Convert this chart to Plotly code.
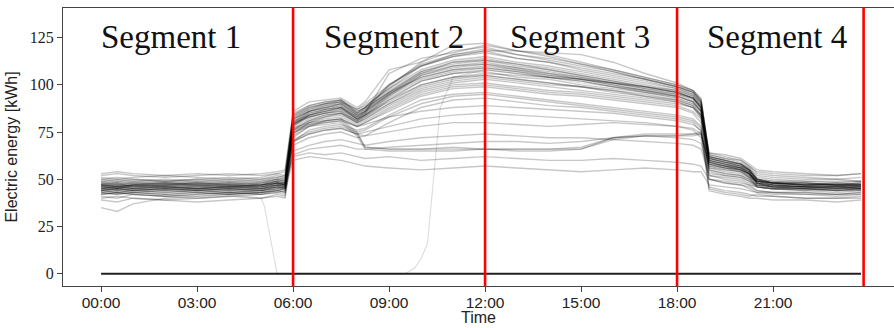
import plotly.graph_objects as go

# Time of day (hours) at which each daily profile is sampled
HOURS = [0, 0.5, 1, 2, 3, 4, 5, 5.5, 5.75,
         6, 6.5, 7, 7.5, 8, 8.25, 9,
         10, 11, 12, 13, 14, 15, 16, 17, 18,
         18.5, 18.75, 19, 19.5, 20, 20.25, 20.5, 21, 22, 23, 23.75]

# Typical working-day profiles [kWh]
DAY_PROFILES = [
    [46,45,47,46,45,46,47,48,47, 78,84,86,88,82,84,93, 102,106,107,104,103,100,98,96,93, 90,86,60,58,56,53,49,48,47,47,46],
    [44,43,44,45,44,43,44,46,45, 74,80,82,83,79,81,88, 96,100,101,99,97,96,94,92,90, 88,83,57,55,54,51,47,46,45,44,45],
    [50,51,50,49,50,51,50,52,51, 84,88,90,92,86,88,98, 108,113,115,112,110,107,104,101,98, 95,90,63,61,59,56,52,51,50,50,49],
    [41,40,42,41,40,41,42,43,42, 70,76,78,79,76,77,84, 92,95,96,94,92,90,88,86,84, 82,78,46,44,43,42,41,41,40,40,41],
    [48,47,48,49,48,47,48,50,49, 82,86,89,90,84,87,96, 106,110,112,109,106,104,101,98,95, 93,88,62,60,58,55,50,49,48,47,48],
    [53,54,53,52,53,52,53,54,55, 86,91,92,93,88,91,108, 112,118,120,116,114,111,108,104,100, 97,92,64,63,61,58,55,54,53,52,53],
    [45,46,45,44,45,44,45,47,46, 80,83,85,86,81,83,90, 98,102,104,102,100,99,97,95,92, 89,84,59,57,55,53,48,47,46,45,46],
    [39,38,40,39,38,39,40,41,40, 68,72,74,75,72,73,80, 88,92,93,91,89,88,86,84,82, 80,75,44,42,41,40,40,39,39,38,39],
    [47,48,46,47,48,47,46,48,49, 79,85,87,89,83,86,95, 104,108,110,108,105,103,100,97,95, 92,87,60,58,56,54,49,48,48,47,47],
    [43,42,43,44,43,42,43,45,44, 76,81,84,85,80,82,89, 97,101,103,101,99,97,95,93,91, 88,84,55,53,52,50,46,45,45,44,44],
    [49,50,49,48,49,50,49,51,50, 85,89,91,92,85,87,97, 107,112,114,111,109,106,103,100,97, 94,89,61,59,57,55,50,49,49,48,49],
    [46,47,46,45,46,47,46,47,48, 80,86,88,90,84,86,100, 110,116,118,114,112,108,105,102,98, 95,90,60,58,56,54,49,48,47,46,47],
    [44,45,44,43,44,45,44,45,46, 77,82,84,85,81,84,94, 105,110,111,108,106,103,100,97,94, 91,86,58,56,55,52,47,46,45,45,46],
    [51,50,51,52,51,50,51,53,52, 82,87,90,91,87,89,98, 110,115,117,114,112,109,106,103,99, 96,91,63,61,60,57,53,52,51,50,51],
    [42,43,42,41,42,43,42,44,43, 72,78,80,81,78,80,86, 94,98,99,97,95,94,92,90,88, 85,80,50,48,47,46,44,43,43,42,43],
    [47,46,47,48,47,46,47,49,48, 81,84,87,88,82,85,94, 103,107,109,107,104,102,99,96,94, 91,86,60,58,57,54,49,48,47,48,47],
    [45,44,45,46,45,44,45,46,47, 79,84,86,87,82,85,95, 106,112,113,110,108,105,102,99,96, 93,88,59,57,56,53,48,46,46,46,45],
    [48,49,48,47,48,49,48,50,49, 83,87,89,91,85,88,99, 112,121,122,118,116,112,108,104,100, 97,92,62,60,58,55,50,48,48,47,48],
    [40,41,40,39,40,41,40,42,41, 71,75,77,78,75,76,83, 90,94,95,93,91,89,87,85,83, 81,77,45,43,42,41,42,41,40,40,40],
    [46,45,46,47,46,45,46,48,47, 78,83,85,87,82,84,91, 100,104,105,103,101,99,97,94,92, 89,84,59,57,56,53,48,47,46,46,47],
    [52,53,52,51,52,53,52,53,54, 84,89,91,92,87,90,100, 111,116,119,116,113,110,107,103,99, 96,91,64,62,60,57,54,53,52,52,53],
    [44,43,44,45,44,43,44,45,46, 75,80,83,84,80,82,90, 99,103,105,103,101,99,96,94,91, 88,83,56,54,53,51,46,45,45,44,45],
    [47,48,47,46,47,48,47,49,48, 80,85,87,88,83,86,96, 107,111,113,111,108,105,102,99,96, 93,88,61,59,57,55,50,48,47,47,48],
    [35,33,37,40,41,42,43,44,43, 73,78,81,82,78,80,87, 95,99,100,98,96,95,93,91,89, 86,82,52,50,49,47,44,43,43,42,42],
    [45,46,45,46,45,46,45,47,46, 79,84,86,88,83,85,106, 114,117,121,118,115,111,107,103,99, 96,91,61,59,57,54,49,47,46,46,46],
    [50,49,50,49,50,49,50,51,52, 83,88,90,91,86,88,96, 104,108,109,107,105,103,101,98,96, 93,88,62,60,58,56,51,50,49,49,49],
    [43,44,43,42,43,44,43,44,45, 76,81,83,85,80,83,92, 102,106,108,106,104,102,99,97,94, 91,86,54,52,51,49,46,45,44,45,44],
    [48,47,48,47,48,47,48,49,50, 82,86,88,89,84,86,95, 105,109,111,109,107,104,101,99,96, 93,88,61,59,58,55,50,48,48,47,47],
    [47,46,47,48,47,48,47,49,48, 81,86,88,90,85,88,100, 110,115,118,118,117,116,112,106,101, 97,93,62,60,58,55,50,48,47,47,47],
    [44,45,44,45,44,45,44,46,45, 79,83,85,86,81,84,92, 100,104,106,105,104,103,101,99,97, 94,89,59,57,55,53,48,46,46,45,45],
    [43,42,43,42,43,42,43,44,45, 70,74,76,77,74,75,78, 82,84,85,84,83,82,81,80,78, 76,72,50,48,47,45,43,42,42,41,42],
    [46,47,46,47,46,47,46,48,47, 74,79,81,82,78,79,83, 86,88,89,88,87,86,85,83,81, 79,76,55,53,52,50,47,46,46,45,46],
]

# Low-consumption day profiles [kWh]
LOW_PROFILES = [
    [44,45,44,43,44,45,44,46,45, 65,68,70,71,69,68,70, 72,73,74,73,72,72,71,70,69, 68,66,52,51,50,48,46,45,44,43,44],
    [47,46,47,48,47,46,47,48,47, 62,64,63,64,62,61,62, 60,61,62,61,60,60,61,60,59, 58,57,50,49,48,47,46,45,45,46,45],
    [42,43,42,41,42,43,42,43,44, 60,62,61,60,58,57,56, 55,56,57,56,55,54,55,56,55, 54,54,47,46,45,44,43,43,42,42,43],
    [49,48,49,50,49,48,49,50,51, 70,74,76,77,74,73,75, 78,80,80,79,78,79,80,79,78, 77,74,56,55,54,51,49,48,47,48,47],
    [45,44,45,44,45,46,45,46,47, 63,66,67,68,66,66,67, 68,69,70,70,69,70,72,73,72, 71,69,53,52,51,49,47,46,45,44,45],
]

# Repeated flat ~66 kWh days stepping to ~73 kWh in the afternoon
FLAT_PROFILES = [
    [46,45,46,45,46,45,46,47,48, 76,79,80,81,74,67,66, 66,66,66,66,66,66,72,73,73, 74,74,58,56,55,53,48,47,46,46,46],
    [45,46,45,46,45,46,45,47,46, 75,78,79,80,73,66,65, 65,65,66,65,65,66,71,73,73, 73,74,57,56,54,52,48,46,46,46,45],
    [47,46,47,46,47,46,47,48,47, 77,80,81,82,75,67,66, 66,67,66,66,66,67,72,74,74, 74,75,58,57,55,53,49,47,47,47,46],
]

# Days with missing data (recorded as zero)
ZERO_DAY = [0, 0, 0, 0, 0, 0, 0, 0, 0, 0, 0, 0, 0, 0, 0, 0, 0, 0,
            0, 0, 0, 0, 0, 0, 0, 0, 0, 0, 0, 0, 0, 0, 0, 0, 0, 0]
DROP_HOURS = [0, 1, 2, 3, 4, 5, 5.1, 5.5, 12, 23.75]
DROP_DAY = [42, 43, 42, 41, 42, 40, 36, 0, 0, 0]
LATE_HOURS = [0, 9.5, 9.8, 10.0, 10.2, 10.4, 10.6, 11, 12, 13, 14, 15, 16, 17, 18,
              18.5, 18.75, 19, 19.5, 20, 20.5, 21, 22, 23, 23.75]
LATE_DAY = [0, 0, 3, 8, 16, 50, 88, 104, 108, 106, 104, 101, 99, 96, 93,
            90, 85, 58, 56, 55, 49, 47, 46, 46, 47]

SEGMENT_BOUNDS = [6, 12, 18, 23.83]
SEGMENT_LABELS = ["Segment 1", "Segment 2", "Segment 3", "Segment 4"]
SEGMENT_LABEL_X = [2.2, 9.14, 14.97, 21.13]

TICK_HOURS = [0, 3, 6, 9, 12, 15, 18, 21]
TICK_LABELS = ["00:00", "03:00", "06:00", "09:00", "12:00", "15:00", "18:00", "21:00"]
Y_TICKS = [0, 25, 50, 75, 100, 125]

LINE = dict(color="rgba(0,0,0,0.22)", width=1.4)

fig = go.Figure()


def add_day(x, y, line=LINE):
    fig.add_trace(go.Scatter(x=x, y=y, mode="lines", line=line,
                             hoverinfo="skip", showlegend=False))


for prof in DAY_PROFILES + LOW_PROFILES + FLAT_PROFILES:
    add_day(HOURS, prof)
add_day(DROP_HOURS, DROP_DAY, dict(color="rgba(0,0,0,0.13)", width=1.2))
add_day(LATE_HOURS, LATE_DAY, dict(color="rgba(0,0,0,0.13)", width=1.2))
add_day(HOURS, ZERO_DAY, dict(color="rgba(0,0,0,0.85)", width=2))

for xb in SEGMENT_BOUNDS:
    fig.add_shape(type="line", xref="x", yref="paper", x0=xb, x1=xb, y0=0, y1=1,
                  line=dict(color="#ff0000", width=2.6), layer="above")

for lab, xl in zip(SEGMENT_LABELS, SEGMENT_LABEL_X):
    fig.add_annotation(x=xl, y=125.4, xref="x", yref="y", text=lab, showarrow=False,
                       xanchor="center", yanchor="middle",
                       font=dict(family="Liberation Serif", size=33, color="#111"))

# x-axis title placed just under the tick labels
fig.add_annotation(x=0.5, y=-0.112, xref="paper", yref="paper", text="Time",
                   showarrow=False, xanchor="center", yanchor="middle",
                   font=dict(family="Liberation Sans", size=16, color="#222"))

AX = "#444"
fig.update_layout(
    width=894, height=328,
    margin=dict(l=63, r=0, t=8, b=42),
    paper_bgcolor="white", plot_bgcolor="white",
    xaxis=dict(range=[-1.19, 24.78], tickvals=TICK_HOURS, ticktext=TICK_LABELS,
               ticks="outside", ticklen=5, tickcolor=AX, showline=True,
               linecolor=AX, linewidth=1, mirror=True, showgrid=False,
               zeroline=False, ticklabelstandoff=-3,
               tickfont=dict(family="Liberation Sans", size=15.5, color="#222")),
    yaxis=dict(range=[-6.5, 140.7], tickvals=Y_TICKS, ticks="outside", ticklen=5,
               tickcolor=AX, showline=True, linecolor=AX, linewidth=1,
               showgrid=False, zeroline=False,
               tickfont=dict(family="Liberation Serif", size=16, color="#222"),
               title=dict(text="Electric energy [kWh]", standoff=8,
                          font=dict(family="Liberation Sans", size=16, color="#222"))),
)

fig.write_html("out.html")
